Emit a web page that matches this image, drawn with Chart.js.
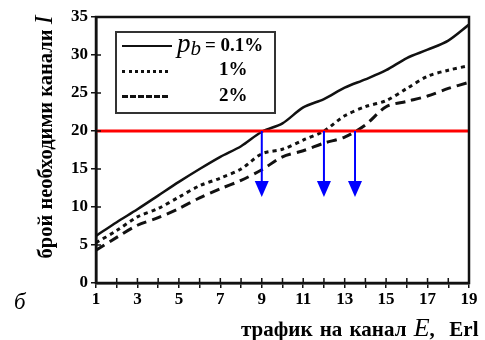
<!DOCTYPE html>
<html><head><meta charset="utf-8">
<script src="https://cdn.jsdelivr.net/npm/chart.js@4"></script>
<style>
html,body{margin:0;padding:0;background:#fff;}
#wrap{position:relative;width:485px;height:340px;overflow:hidden;font-family:"Liberation Serif","Times New Roman",serif;}
canvas{position:absolute;left:0;top:0;}
.t{position:absolute;white-space:nowrap;color:#000;}
#ytitle{left:44px;top:137px;transform:translate(-50%,-50%) rotate(-90deg);font-weight:bold;font-size:20.5px;}
#xtitle{left:241px;top:313px;font-weight:bold;font-size:21px;word-spacing:2px;}
.it{font-style:italic;font-weight:normal;font-size:26px;}
#fig{left:14px;top:289px;font-style:italic;font-size:23px;}
#legend{position:absolute;left:115px;top:31px;width:157px;height:79px;border:2px solid #333;background:#fff;}
.ln{position:absolute;left:5px;width:50px;height:0;}
.lt{position:absolute;font-weight:bold;font-size:19px;}
</style></head>
<body><div id="wrap">
<canvas id="c" width="485" height="340"></canvas>
<div id="legend">
  <div class="ln" style="top:12px;border-top:2.5px solid #111;"></div>
  <div class="lt" style="left:60px;top:-5px;"><span style="font-style:italic;font-weight:normal;font-size:27px;">p</span><sub style="font-style:italic;font-weight:normal;font-size:21px;position:relative;top:-2px;">b</sub></div>
  <div class="lt" style="left:88px;top:1px;">= 0.1%</div>
  <div class="ln" style="top:37px;width:46px;border-top:3px dotted #111;"></div>
  <div class="lt" style="left:102px;top:25px;">1%</div>
  <div class="ln" style="top:62px;width:46px;border-top:3px dashed #111;"></div>
  <div class="lt" style="left:102px;top:51px;">2%</div>
</div>
<div class="t" id="ytitle">брой необходими канали <span class="it">I</span></div>
<div class="t" id="xtitle">трафик на канал <span class="it">E</span>,&nbsp; Erl</div>
<div class="t" id="fig">б</div>
</div>
<script>
// traffic per channel E, Erl
const trafficE = [1,2,3,4,5,6,7,8,9,10,11,12,13,14,15,16,17,18,19];
// required channels I for blocking probability pb
const pb01 = [6.2,8.0,9.7,11.5,13.3,15.0,16.6,18.0,19.9,21.0,23.1,24.2,25.7,26.8,28.0,29.6,30.7,31.9,34.0];
const pb1  = [5.3,6.9,8.7,9.8,11.3,12.8,13.8,15.0,17.0,17.6,18.8,20.0,22.0,23.2,24.0,25.6,27.2,28.0,28.6];
const pb2  = [4.3,6.0,7.6,8.6,9.8,11.2,12.4,13.5,14.9,16.6,17.4,18.4,19.2,20.8,23.2,23.9,24.6,25.6,26.4];
const xTickLabels = [1,3,5,7,9,11,13,15,17,19];
const yTickLabels = [0,5,10,15,20,25,30,35];
const thresholdI = 20;
const arrowE = [9, 12, 13.5];
const arrowEndI = 11.3;

const pts = arr => trafficE.map((x,i)=>({x:x, y:arr[i]}));
const thresholdLine = [{x:trafficE[0], y:thresholdI},{x:trafficE[trafficE.length-1], y:thresholdI}];

const extras = {
  id:'extras',
  afterDraw(chart){
    const {ctx, chartArea:a, scales:{x, y}} = chart;
    ctx.save();
    ctx.strokeStyle = '#111';
    ctx.lineWidth = 1.5;
    // inward tick marks
    ctx.beginPath();
    trafficE.forEach(v=>{const px=x.getPixelForValue(v); ctx.moveTo(px,a.bottom); ctx.lineTo(px,a.bottom-5);});
    yTickLabels.forEach(v=>{const py=y.getPixelForValue(v); ctx.moveTo(a.left,py); ctx.lineTo(a.left+5,py);});
    ctx.stroke();
    // frame
    ctx.lineWidth = 2.5;
    ctx.strokeRect(a.left, a.top, a.right-a.left, a.bottom-a.top);
    // arrows
    ctx.strokeStyle = '#0000ff'; ctx.fillStyle = '#0000ff'; ctx.lineWidth = 2;
    arrowE.forEach(v=>{
      const px = x.getPixelForValue(v);
      const y0 = y.getPixelForValue(thresholdI);
      const y1 = y.getPixelForValue(arrowEndI);
      ctx.beginPath(); ctx.moveTo(px,y0); ctx.lineTo(px,y1-14); ctx.stroke();
      ctx.beginPath(); ctx.moveTo(px-7,y1-16); ctx.lineTo(px+7,y1-16); ctx.lineTo(px,y1); ctx.closePath(); ctx.fill();
    });
    ctx.restore();
  }
};

const tickFont = {family:'"Liberation Serif", serif', size:17, weight:'bold'};
new Chart(document.getElementById('c'), {
  type:'scatter',
  data:{datasets:[
    {label:'threshold', data:thresholdLine, showLine:true, borderColor:'#ff0000', borderWidth:3, pointRadius:0, order:-1},
    {label:'0.1%', data:pts(pb01), showLine:true, borderColor:'#111', borderWidth:2.5, pointRadius:0, tension:0.3},
    {label:'1%', data:pts(pb1), showLine:true, borderColor:'#111', borderWidth:3, borderDash:[4,4], pointRadius:0, tension:0.3},
    {label:'2%', data:pts(pb2), showLine:true, borderColor:'#111', borderWidth:3, borderDash:[10,6], pointRadius:0, tension:0.3}
  ]},
  options:{
    responsive:false, animation:false,
    layout:{padding:{top:17,right:16,left:0,bottom:0}},
    plugins:{legend:{display:false}, tooltip:{enabled:false}},
    scales:{
      x:{type:'linear', min:1, max:19,
         afterFit(s){s.height=57;},
         afterBuildTicks(s){s.ticks = trafficE.map(v=>({value:v}));},
         ticks:{color:'#000', font:tickFont, padding:1, maxRotation:0, autoSkip:false,
                callback:v=> xTickLabels.includes(v) ? String(v) : ''},
         grid:{drawOnChartArea:false, drawTicks:true, tickLength:5, color:'#111', lineWidth:1.5},
         border:{display:true, color:'#111', width:2.5}},
      y:{min:0, max:35,
         afterFit(s){s.width=96;},
         afterBuildTicks(s){s.ticks = yTickLabels.map(v=>({value:v}));},
         ticks:{color:'#000', font:tickFont, padding:3, callback:v=>String(v)},
         grid:{drawOnChartArea:false, drawTicks:true, tickLength:5, color:'#111', lineWidth:1.5},
         border:{display:true, color:'#111', width:2.5}}
    }
  },
  plugins:[extras]
});
</script>
</body></html>
